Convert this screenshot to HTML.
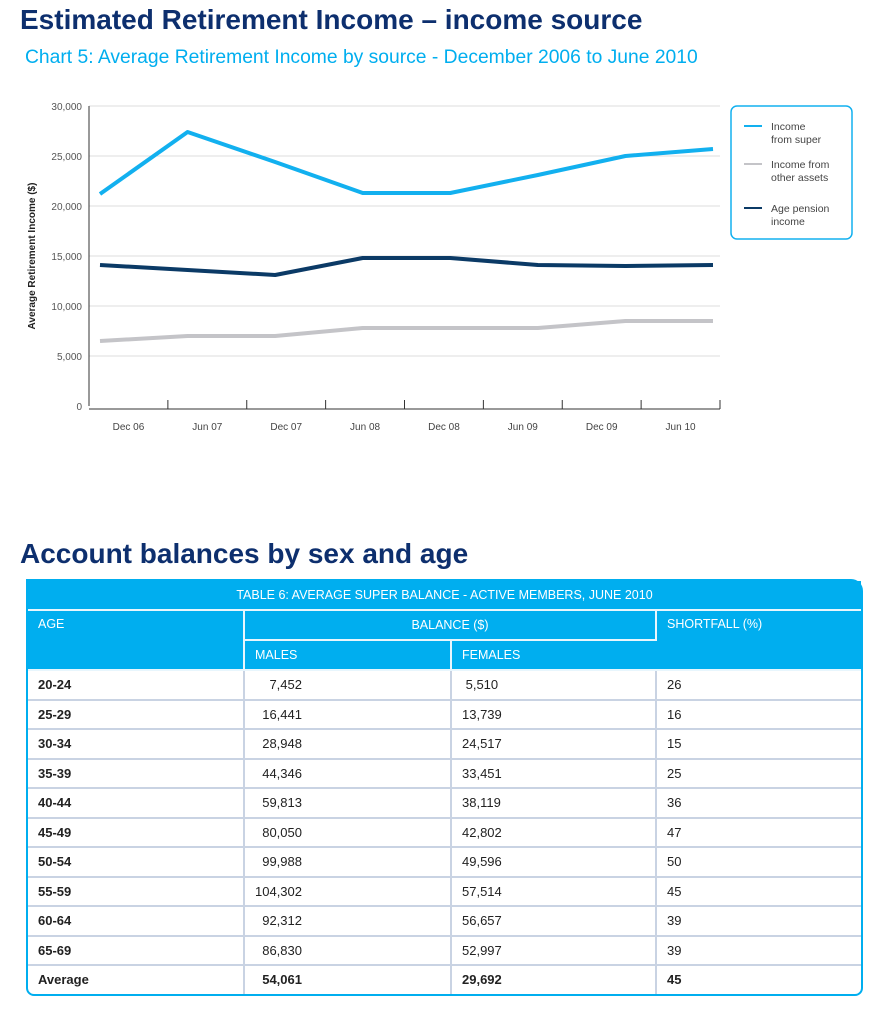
<!DOCTYPE html>
<html><head><meta charset="utf-8"><style>
body{margin:0;width:889px;height:1024px;background:#fff;font-family:"Liberation Sans",sans-serif;position:relative;overflow:hidden}
.h1{position:absolute;left:20px;font-weight:bold;font-size:28px;color:#0d2f6e}
table{position:absolute;left:26px;top:579px;width:837px;border-collapse:separate;border-spacing:0;border:2px solid #00aeef;border-radius:0 12px 8px 8px;font-size:13px;color:#222}
td{height:27.5px;padding:0 0 0 10px;border-right:2px solid #c9d3e3;border-bottom:2px solid #c9d3e3}
td:last-child{border-right:none}
tr:last-child td{border-bottom:none}
.hd td{background:#00aeef;color:#fff;border-color:#e8f6fd;font-size:12.5px;height:28px}
.b{font-weight:bold}
</style></head><body>
<div class="h1" style="top:4px">Estimated Retirement Income – income source</div>
<div style="position:absolute;left:25px;top:47px;font-size:19.3px;color:#00aeef">Chart 5: Average Retirement Income by source - December 2006 to June 2010</div>
<svg id="chart" width="889" height="460" style="position:absolute;left:0;top:0"></svg>
<div class="h1" style="top:538px">Account balances by sex and age</div>
<table>
<tr class="hd"><td colspan="4" style="text-align:center;padding:0">TABLE 6: AVERAGE SUPER BALANCE - ACTIVE MEMBERS, JUNE 2010</td></tr>
<tr class="hd"><td rowspan="2" style="vertical-align:top;padding-top:6px;width:205px">AGE</td><td colspan="2" style="text-align:center;padding:0">BALANCE ($)</td><td rowspan="2" style="vertical-align:top;padding-top:6px">SHORTFALL (%)</td></tr>
<tr class="hd"><td style="width:195px">MALES</td><td style="width:195px">FEMALES</td></tr>
<tr><td class="b">20-24</td><td>&nbsp;&nbsp;&nbsp;&nbsp;7,452</td><td>&nbsp;5,510</td><td>26</td></tr>
<tr><td class="b">25-29</td><td>&nbsp;&nbsp;16,441</td><td>13,739</td><td>16</td></tr>
<tr><td class="b">30-34</td><td>&nbsp;&nbsp;28,948</td><td>24,517</td><td>15</td></tr>
<tr><td class="b">35-39</td><td>&nbsp;&nbsp;44,346</td><td>33,451</td><td>25</td></tr>
<tr><td class="b">40-44</td><td>&nbsp;&nbsp;59,813</td><td>38,119</td><td>36</td></tr>
<tr><td class="b">45-49</td><td>&nbsp;&nbsp;80,050</td><td>42,802</td><td>47</td></tr>
<tr><td class="b">50-54</td><td>&nbsp;&nbsp;99,988</td><td>49,596</td><td>50</td></tr>
<tr><td class="b">55-59</td><td>104,302</td><td>57,514</td><td>45</td></tr>
<tr><td class="b">60-64</td><td>&nbsp;&nbsp;92,312</td><td>56,657</td><td>39</td></tr>
<tr><td class="b">65-69</td><td>&nbsp;&nbsp;86,830</td><td>52,997</td><td>39</td></tr>
<tr><td class="b">Average</td><td class="b">&nbsp;&nbsp;54,061</td><td class="b">29,692</td><td class="b">45</td></tr>
</table>
<script>
const categories=["Dec 06","Jun 07","Dec 07","Jun 08","Dec 08","Jun 09","Dec 09","Jun 10"];
const superIncome=[21200,27400,24400,21300,21300,23100,25000,25700];
const otherAssets=[6500,7000,7000,7800,7800,7800,8500,8500];
const agePension=[14100,13600,13100,14800,14800,14100,14000,14100];
const yTicks=[0,5000,10000,15000,20000,25000,30000];
const NS="http://www.w3.org/2000/svg";
const svg=document.getElementById('chart');
const X0=89,X1=720,Y0=406,Y1=106;
const y=v=>Y0-(v/30000)*(Y0-Y1);
const xp=i=>100+i*(713-100)/(categories.length-1);
function mk(t,a){const e=document.createElementNS(NS,t);for(const k in a)e.setAttribute(k,a[k]);svg.appendChild(e);return e;}
yTicks.forEach(v=>{
  if(v>0){const g=mk('line',{x1:X0,x2:X1,y1:y(v),y2:y(v),stroke:'#ddd','stroke-width':1});
  
  }
  const t=mk('text',{x:82,y:y(v)+4,'text-anchor':'end','font-size':10,fill:'#555'});
  t.textContent=v.toLocaleString('en-US');
  
  
});
let a=mk('line',{x1:X0,x2:X0,y1:Y1,y2:Y0,stroke:'#333','stroke-width':1});


a=mk('line',{x1:X0,x2:X1,y1:Y0+3,y2:Y0+3,stroke:'#333','stroke-width':1});


const step=(X1-X0)/categories.length;
for(let i=1;i<=categories.length;i++){const t=mk('line',{x1:X0+i*step,x2:X0+i*step,y1:Y0-6,y2:Y0+3,stroke:'#333'});

}
categories.forEach((c,i)=>{const t=mk('text',{x:X0+(i+0.5)*step,y:430,'text-anchor':'middle','font-size':10,fill:'#444'});t.textContent=c;

});
const yt=mk('text',{transform:'translate(35,256) rotate(-90)','text-anchor':'middle','font-size':10,'font-weight':'bold',fill:'#222'});
yt.textContent='Average Retirement Income ($)';


[[otherAssets,'#c4c4c8','other-assets-line'],[agePension,'#0b3a66','age-pension-line'],[superIncome,'#12b0ef','super-income-line']].forEach(([d,col,n])=>{
  const p=mk('polyline',{points:d.map((v,i)=>xp(i)+','+y(v)).join(' '),fill:'none',stroke:col,'stroke-width':4,'stroke-linejoin':'round'});
  
  
});
const lb=mk('rect',{x:731,y:106,width:121,height:133,rx:6,fill:'#fff',stroke:'#12b0ef','stroke-width':1.5});


[['#12b0ef',['Income','from super'],127],['#c4c4c8',['Income from','other assets'],165],['#0b3a66',['Age pension','income'],209]].forEach(([c,ls,ty])=>{
  const l=mk('line',{x1:744,x2:762,y1:ty-1,y2:ty-1,stroke:c,'stroke-width':2});
  
  
  ls.forEach((s,j)=>{const t=mk('text',{x:771,y:ty+3+j*13,'font-size':10.5,fill:'#444'});t.textContent=s;
  
  });
});
</script>
</body></html>
